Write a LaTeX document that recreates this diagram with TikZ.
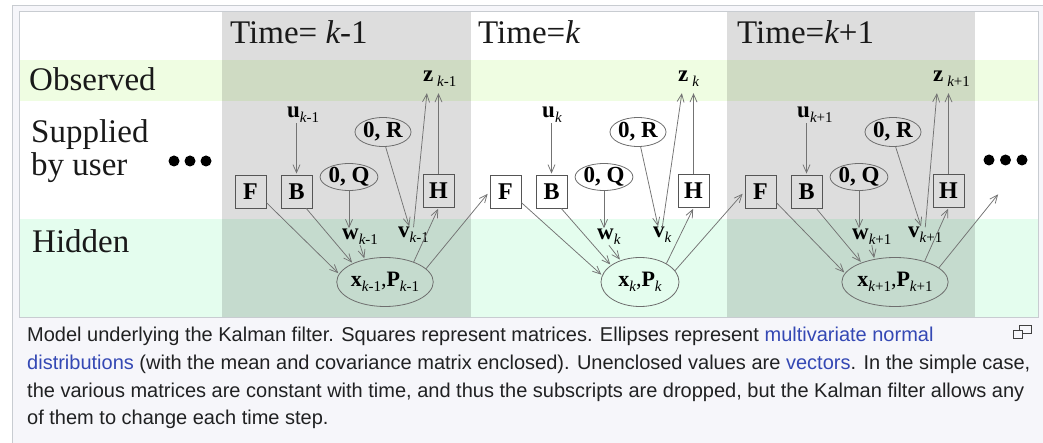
\documentclass[tikz,border=0pt]{standalone}
\usepackage{fontspec}
\setmainfont{Liberation Serif}
\newfontfamily\capfont{Liberation Sans}
\usetikzlibrary{arrows.meta,shapes.geometric,calc}
\definecolor{obsband}{RGB}{239,253,226}
\definecolor{hidband}{RGB}{228,253,238}
\definecolor{framec}{RGB}{200,204,209}
\definecolor{capbg}{RGB}{246,246,250}
\definecolor{linkc}{RGB}{52,72,180}
\definecolor{captext}{RGB}{32,33,34}
\definecolor{arrc}{RGB}{115,115,115}
\definecolor{boxc}{RGB}{85,85,85}
\newcommand\kfsub[1]{\raisebox{-5pt}{\fontsize{15}{15}\selectfont #1}}
\tikzset{
  mat/.style={draw=boxc, line width=0.9pt, minimum width=31pt, minimum height=33pt, inner sep=0pt, font=\fontsize{24}{24}\selectfont\bfseries},
  dist/.style={ellipse, draw=boxc!85, line width=0.8pt, minimum width=56pt, minimum height=27pt, inner sep=0pt, font=\fontsize{23}{23}\selectfont\bfseries},
  vec/.style={anchor=base west, inner sep=0pt, font=\fontsize{23}{23}\selectfont},
  conn/.style={draw=arrc, line width=0.75pt, shorten >=1pt, -{Straight Barb[length=8pt,width=7pt,line width=0.75pt]}},
  biglab/.style={anchor=base west, inner sep=0pt, font=\fontsize{33}{33}\selectfont, text=black!90},
  caplab/.style={anchor=base west, inner sep=0pt, font=\capfont\fontsize{20}{20}\selectfont, text=captext},
  dotc/.style={fill=black}
}
\begin{document}
\begin{tikzpicture}[x=1pt,y=-1pt]
\useasboundingbox (0,0) rectangle (1043,443);
\clip (0,0) rectangle (1043,443);
% frames and bands
\draw[framec, fill=capbg, line width=1pt] (12.5,5.5) rectangle (1060,460);
\fill[white] (19,12) rectangle (1038,317);
\fill[obsband] (19,60) rectangle (1038,101);
\fill[hidband] (19,219) rectangle (1038,317);
\fill[black, opacity=0.135] (222,12) rectangle (471,317);
\fill[black, opacity=0.135] (727,12) rectangle (975,317);
\draw[framec, line width=1pt] (19,12) rectangle (1038,317);
% row labels
\node[biglab] (obs) at (29,91) {Observed};
\node[biglab] (sup1) at (31,143) {Supplied};
\node[biglab] (sup2) at (31,176) {by user};
\node[biglab] (hid) at (32,253) {Hidden};
% time labels
\node[biglab] (t0) at (230,44) {Time= {\itshape k}-1};
\node[biglab] (t1) at (478,44) {Time={\itshape k}};
\node[biglab] (t2) at (737,44) {Time={\itshape k}+1};
% dots
\fill[dotc] (174,161) circle (5.5);
\fill[dotc] (190,161) circle (5.5);
\fill[dotc] (206,161) circle (5.5);
\fill[dotc] (989,160) circle (5.5);
\fill[dotc] (1005.5,160) circle (5.5);
\fill[dotc] (1022,160) circle (5.5);
% nodes per time step
\foreach \i/\s in {0/{{\itshape k}-1}, 1/{{\itshape k}}, 2/{{\itshape k}+1}} {
  \begin{scope}[xshift=\i*255]
    \node[mat] (F\i) at (250.5,191.5) {F};
    \node[mat] (B\i) at (296.5,191.5) {B};
    \node[mat] (H\i) at (438.5,191) {H};
    \node[vec] (u\i) at (287,118) {\textbf{u}\kfsub{\s}};
    \node[dist] (Q\i) at (349,177) {0, Q};
    \node[dist, minimum height=29pt] (R\i) at (383,132) {0, R};
    \node[vec] (z\i) at (423,82) {\textbf{z}\,\kfsub{\s}};
    \node[vec] (w\i) at (342,240) {\textbf{w}\kfsub{\s}};
    \node[vec] (v\i) at (398,238) {\textbf{v}\kfsub{\s}};
    \node[dist, minimum width=78pt, minimum height=49pt, font=\fontsize{22}{22}\selectfont] (X\i) at (385,282) {\textbf{x}\kfsub{\s},\textbf{P}\kfsub{\s}};
  \end{scope}
}
\coordinate (F3) at (1000,192);
% connectors
\foreach \i in {0,1,2} {
  \pgfmathtruncatemacro{\j}{\i+1}
  \draw[conn] (B\i.north |- u\i.south) -- (B\i.north);
  \draw[conn] (Q\i.south) -- (Q\i.south |- w\i.north);
  \draw[conn] (R\i.-80) -- ([xshift=-4pt]v\i.north);
  \draw[conn] (v\i.north) -- ($(z\i.south west)+(4,5)$);
  \draw[conn] (H\i.north) -- ($(H\i.north |- z\i.south)+(0,5)$);
  \draw[conn] (X\i.35) -- (H\i.south);
  \draw[conn, shorten >=3pt] (X\i.18) -- (F\j.west);
  \draw[conn] (F\i.-35) -- (X\i.170);
  \draw[conn] (B\i.-60) -- (X\i.150);
  \draw[conn] (w\i.south) -- (X\i.132);
}
% caption
\node[caplab] (c1) at (27,341) {Model underlying the Kalman filter. Squares represent matrices. Ellipses represent \textcolor{linkc}{multivariate normal}};
\node[caplab] (c2) at (27,369) {\textcolor{linkc}{distributions} (with the mean and covariance matrix enclosed). Unenclosed values are \textcolor{linkc}{vectors}. In the simple case,};
\node[caplab] (c3) at (27,397) {the various matrices are constant with time, and thus the subscripts are dropped, but the Kalman filter allows any};
\node[caplab] (c4) at (27,424) {of them to change each time step.};
% enlarge icon
\draw[black!75, line width=1.2pt] (1019.5,325.5) rectangle (1031.5,333.5);
\draw[black!75, line width=1.2pt, fill=capbg] (1013.5,330.5) rectangle (1022.5,338.5);
\end{tikzpicture}
\end{document}
